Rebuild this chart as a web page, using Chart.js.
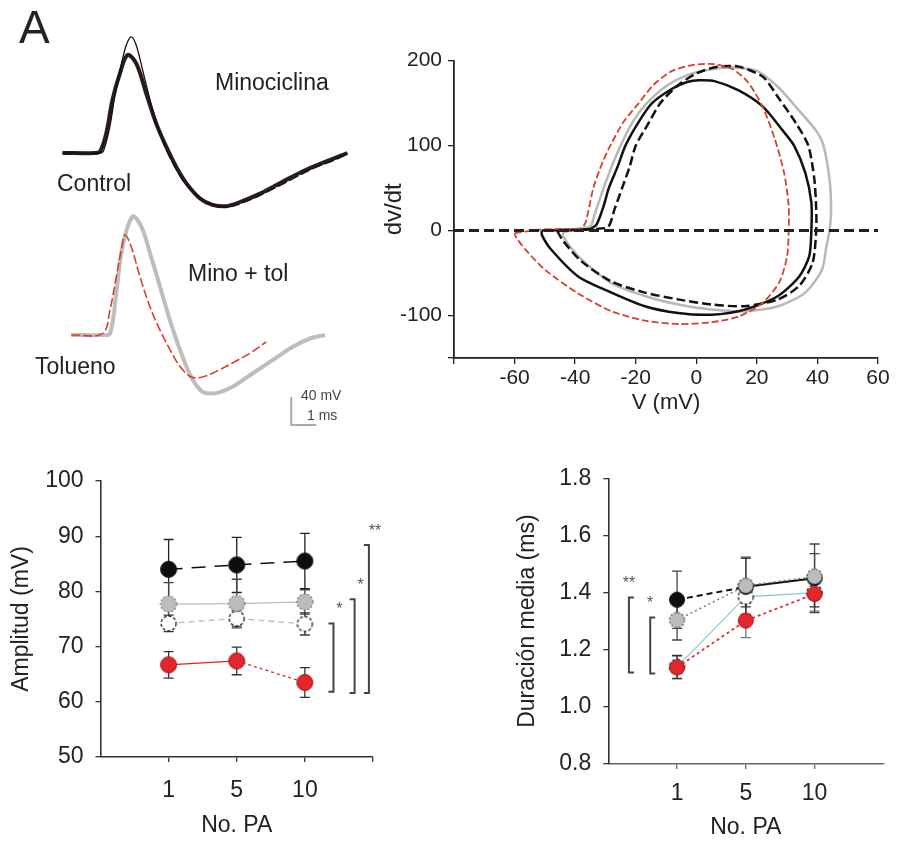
<!DOCTYPE html>
<html>
<head>
<meta charset="utf-8">
<script src="https://cdn.jsdelivr.net/npm/chart.js@4.4.0/dist/chart.umd.min.js"></script>
<style>
    html, body { margin: 0; padding: 0; background: #fff; }
    #fig { position: relative; width: 897px; height: 844px; overflow: hidden; background: #fff; }
    #fig canvas { position: absolute; }
    .lbl { position: absolute; line-height: 1; white-space: nowrap; color: #222;
           font-family: "Liberation Sans", Arial, sans-serif; }
</style>
</head>
<body>
<div id="fig">
    <canvas id="traceTop" width="400" height="252" style="left:0;top:-1px"></canvas>
    <canvas id="traceBottom" width="400" height="252" style="left:0;top:181px"></canvas>
    <canvas id="phasePlot" width="517" height="400" style="left:380px;top:30px"></canvas>
    <canvas id="ampChart" width="440" height="394" style="left:0;top:450px"></canvas>
    <canvas id="durChart" width="417" height="394" style="left:480px;top:450px"></canvas>

    <div class="lbl" style="left:19px;top:4px;font-size:46px">A</div>
    <div class="lbl" style="left:215px;top:71px;font-size:23px">Minociclina</div>
    <div class="lbl" style="left:57px;top:172px;font-size:23px">Control</div>
    <div class="lbl" style="left:188px;top:262px;font-size:23px">Mino + tol</div>
    <div class="lbl" style="left:35px;top:355px;font-size:23px">Tolueno</div>
    <div class="lbl" style="left:301px;top:388px;font-size:14px;color:#444">40 mV</div>
    <div class="lbl" style="left:307px;top:408px;font-size:14px;color:#444">1 ms</div>
</div>
<script>
// ---- A: action potential traces (time in ms, voltage in mV)
const ctlTime = [0, 1.3, 1.5, 1.75, 2.0, 2.3, 2.6, 2.95, 3.35, 3.75, 4.15, 4.55, 4.95, 5.5, 6.0, 6.55, 7.1, 7.9, 8.8, 9.75, 10.55, 11.4];
const ctlVolt = [-70, -70, -68, -42, 6, 44, 70, 58, 15, -28, -61, -90, -113, -135, -144, -146, -140, -128, -111, -94, -82, -70];
const minoTime = [0, 1.5, 1.65, 1.9, 2.1, 2.35, 2.55, 2.75, 2.95, 3.2, 3.5, 3.8, 4.1, 4.5, 4.9, 5.5, 6.0, 6.6, 7.3, 8.1, 9.1, 10.1, 10.9, 11.4];
const minoVolt = [-70, -70, -66, -31, 13, 56, 84, 96, 84, 49, 6, -31, -61, -90, -113, -134, -144, -147, -140, -127, -109, -91, -80, -71];
const tolTime = [0.35, 1.6, 1.9, 2.15, 2.35, 2.5, 2.75, 3.1, 3.5, 3.9, 4.3, 4.7, 5.15, 5.6, 6.15, 6.8, 7.5, 8.15];
const tolVolt = [-70, -68, -34, 13, 51, 73, 56, 13, -30, -63, -91, -115, -130, -130, -122, -110, -96, -80];
const mtTime = [0.35, 1.6, 1.9, 2.15, 2.4, 2.8, 3.15, 3.5, 3.9, 4.3, 4.7, 5.15, 5.6, 6.15, 6.8, 7.6, 8.4, 9.2, 9.9, 10.5];
const mtVolt = [-70, -70, -68, -10, 56, 99, 85, 47, -1, -49, -91, -130, -151, -153, -144, -125, -106, -87, -75, -70];
const scaleBarTime = [9.15, 9.15, 10.15];   // 1 ms
const scaleBarVolt = [-158.6, -198.6, -198.6]; // 40 mV

// ---- phase plot (V in mV, dV/dt)
const tolPhaseV = [-60, -52, -44, -38, -36.5, -34, -31, -28.4, -24, -19, -14, -8, -1, 6, 12, 17, 22, 26, 29, 30.5, 30.5, 30, 27.5, 22, 14, 5, -6, -17, -28, -39, -50, -56, -59.5, -60];
const tolPhaseD = [-3, 1, 2, 3, 10, 50, 80, 100, 128, 150, 172, 188, 195, 196, 190, 175, 145, 107, 68, 30, 0, -30, -60, -85, -101, -108, -110, -106, -95, -74, -46, -24, -8, -3];
const mtPhaseV = [-44, -40, -35, -33.5, -30.6, -28, -25, -21, -16.3, -10, -3, 5, 12, 20, 27, 34, 39.5, 42, 44, 44.5, 44, 43, 41.5, 36, 27, 16, 5, -6, -17, -28, -39, -44, -44];
const mtPhaseD = [-2, 1, 5, 20, 50, 75, 100, 128, 150, 170, 183, 190, 192, 188, 169, 141, 118, 100, 60, 25, 0, -18, -46, -73, -89, -95, -93, -87, -77, -62, -30, -7, -2];
const ctlPhaseV = [-51, -43, -35, -32.8, -30.5, -28.9, -26, -23.4, -19, -14.6, -8, -3, 1, 6, 14, 22, 28.5, 32.3, 36, 38, 38, 37.3, 34, 27, 16, 5, -6, -17, -28, -39, -48, -51, -51];
const ctlPhaseD = [0, 1, 2, 8, 30, 50, 75, 100, 128, 150, 167, 175, 177, 176, 165, 146, 118, 100, 68, 33, 0, -30, -54, -77, -93, -99, -97, -89, -73, -54, -22, -5, 0];
const minoPhaseV = [-46, -38, -33, -29, -27, -24.5, -22, -20, -16, -11.9, -6.4, 0, 7, 14, 22, 27, 33, 37, 39, 39.6, 39.6, 38.4, 34, 27, 16, 5, -6, -17, -28, -38, -44, -46];
const minoPhaseD = [0, 1, 2, 5, 25, 50, 75, 100, 125, 150, 170, 185, 193, 193, 181, 157, 126, 100, 60, 25, 0, -38, -65, -81, -89, -87, -81, -73, -60, -36, -12, 0];
const zeroLineV = [-80, 60];
const zeroLineD = [0, 0];
const phaseVTicks = [-80, -60, -40, -20, 0, 20, 40, 60];
const phaseDTicks = [-150, -100, 0, 100, 200];

// ---- amplitude / half-width per AP number
const pa = ['1', '5', '10'];
const ampControl = [84.0, 84.8, 85.5];
const ampControlErr = [5.4, 5.0, 5.0];
const ampMinoTol = [77.7, 77.8, 78.1];
const ampMinoTolErr = [3.9, 4.4, 2.2];
const ampMino = [74.2, 75.1, 74.1];
const ampMinoErr = [1.5, 1.4, 2.0];
const ampTol = [66.7, 67.4, 63.5];
const ampTolErr = [2.4, 2.5, 2.7];
const ampTicks = [50, 60, 70, 80, 90, 100];
const ampSigX = [3.42, 3.73, 3.94];
const ampSigTop = [74.2, 78.6, 88.4];
const ampSigBottom = [61.8, 61.6, 61.6];
const ampSigLabel = ['*', '*', '**'];

const durControl = [1.375, 1.42, 1.45];
const durControlErr = [0.1, 0.1, 0.12];
const durMinoTol = [1.304, 1.424, 1.456];
const durMinoTolErr = [0.07, 0.1, 0.08];
const durMino = [1.14, 1.385, 1.40];
const durMinoErr = [0.04, 0.035, 0.05];
const durTol = [1.138, 1.302, 1.395];
const durTolErr = [0.04, 0.06, 0.06];
const durTicks = [0.8, 1.0, 1.2, 1.4, 1.6, 1.8];
const durSigX = [0.30, 0.61];
const durSigTop = [1.383, 1.313];
const durSigBottom = [1.120, 1.117];
const durSigLabel = ['**', '*'];

const FONT = '"Liberation Sans", Arial, sans-serif';
Chart.defaults.font.family = FONT;
Chart.defaults.color = '#222';
Chart.defaults.animation = false;
Chart.defaults.events = [];
Chart.defaults.plugins.legend.display = false;
Chart.defaults.plugins.tooltip.enabled = false;

const xy = (xs, ys) => xs.map((x, i) => ({ x, y: ys[i] }));
const fixedTicks = (values) => (scale) => { scale.ticks = values.map(v => ({ value: v })); };

// draws error bars under the markers
const errorBars = {
    id: 'errorBars',
    beforeDatasetsDraw(chart) {
        const { ctx } = chart;
        const y = chart.scales.y;
        chart.data.datasets.forEach((ds, i) => {
            if (!ds.errors) return;
            const meta = chart.getDatasetMeta(i);
            ctx.save();
            ctx.strokeStyle = ds.errorColor || '#333';
            ctx.lineWidth = 1.3;
            meta.data.forEach((pt, j) => {
                const v = ds.data[j].y;
                const top = y.getPixelForValue(v + ds.errors[j]);
                const bot = y.getPixelForValue(v - ds.errors[j]);
                ctx.beginPath();
                ctx.moveTo(pt.x, top); ctx.lineTo(pt.x, bot);
                ctx.moveTo(pt.x - 5, top); ctx.lineTo(pt.x + 5, top);
                ctx.moveTo(pt.x - 5, bot); ctx.lineTo(pt.x + 5, bot);
                ctx.stroke();
            });
            ctx.restore();
        });
    }
};

// significance brackets with asterisks
const brackets = {
    id: 'brackets',
    afterDatasetsDraw(chart, args, opts) {
        if (!opts.x) return;
        const { ctx, scales: { x, y } } = chart;
        ctx.save();
        opts.x.forEach((xv, i) => {
            const px = x.getPixelForValue(xv);
            const t = y.getPixelForValue(opts.top[i]);
            const b = y.getPixelForValue(opts.bottom[i]);
            const arm = 5 * opts.side;
            ctx.strokeStyle = '#444';
            ctx.lineWidth = 2;
            ctx.beginPath();
            ctx.moveTo(px + arm, t); ctx.lineTo(px, t); ctx.lineTo(px, b); ctx.lineTo(px + arm, b);
            ctx.stroke();
            ctx.fillStyle = '#555';
            ctx.font = '16px ' + FONT;
            ctx.textAlign = 'center';
            ctx.textBaseline = 'alphabetic';
            ctx.fillText(opts.labels[i], px + opts.labelDx, t - 9);
        });
        ctx.restore();
    }
};

function dot(r, fill, stroke, dash, lw) {
    const c = document.createElement('canvas');
    const s = Math.ceil(2 * r + lw + 2);
    c.width = c.height = s;
    const g = c.getContext('2d');
    g.beginPath();
    g.arc(s / 2, s / 2, r, 0, Math.PI * 2);
    g.fillStyle = fill;
    g.fill();
    g.setLineDash(dash);
    g.lineWidth = lw;
    g.strokeStyle = stroke;
    g.stroke();
    return c;
}

document.addEventListener('DOMContentLoaded', () => {
    initTraces();
    initPhasePlot();
    initAmplitude();
    initDuration();
});

function traceOptions() {
    return {
        responsive: false,
        layout: { padding: 0 },
        scales: {
            x: { type: 'linear', display: false, min: -2.5, max: 13.5 },
            y: { type: 'linear', display: false, min: -210, max: 150 }
        }
    };
}

function initTraces() {
    new Chart(document.getElementById('traceTop'), {
        type: 'scatter',
        data: {
            datasets: [
                { data: xy(minoTime, minoVolt), showLine: true, borderColor: '#111', borderWidth: 1.3,
                  pointRadius: 0, tension: 0.35,
                  segment: { borderDash: (c) => (c.p0DataIndex > 10 ? [10, 3] : undefined) } },
                { data: xy(ctlTime, ctlVolt), showLine: true, borderColor: '#2a1c17', borderWidth: 4,
                  pointRadius: 0, tension: 0.35 }
            ]
        },
        options: traceOptions()
    });

    new Chart(document.getElementById('traceBottom'), {
        type: 'scatter',
        data: {
            datasets: [
                { data: xy(tolTime, tolVolt), showLine: true, borderColor: '#d8402c', borderWidth: 1.6,
                  borderDash: [9, 3], pointRadius: 0, tension: 0.35 },
                { data: xy(mtTime, mtVolt), showLine: true, borderColor: '#bdbdbd', borderWidth: 4,
                  pointRadius: 0, tension: 0.35 },
                { data: xy(scaleBarTime, scaleBarVolt), showLine: true, borderColor: '#aaa', borderWidth: 2,
                  pointRadius: 0, tension: 0 }
            ]
        },
        options: traceOptions()
    });
}

function initPhasePlot() {
    const axisGrid = { drawOnChartArea: false, tickLength: 6, color: '#222', lineWidth: 1.3 };
    const axisBorder = { color: '#222', width: 1.8 };
    const loop = (xs, ys, color, width, dash) => ({
        data: xy(xs, ys), showLine: true, borderColor: color, borderWidth: width,
        borderDash: dash, pointRadius: 0, tension: 0.25
    });

    new Chart(document.getElementById('phasePlot'), {
        type: 'scatter',
        data: {
            datasets: [
                { data: xy(zeroLineV, zeroLineD), showLine: true, borderColor: '#222', borderWidth: 3,
                  borderDash: [10, 5], pointRadius: 0 },
                loop(tolPhaseV, tolPhaseD, '#d8402c', 1.8, [7, 3]),
                loop(ctlPhaseV, ctlPhaseD, '#111', 2.5, []),
                loop(minoPhaseV, minoPhaseD, '#111', 2.5, [9, 4]),
                loop(mtPhaseV, mtPhaseD, '#b8b8b8', 2.5, [])
            ]
        },
        options: {
            responsive: false,
            layout: { padding: { top: 30.7, right: 19, left: 0, bottom: 0 } },
            scales: {
                x: {
                    type: 'linear', min: -80, max: 60,
                    afterBuildTicks: fixedTicks(phaseVTicks),
                    afterFit: (s) => { s.height = 72; },
                    ticks: { font: { size: 21 }, padding: 2, maxRotation: 0, autoSkip: false,
                             callback: (v) => (v === -80 ? '' : v) },
                    grid: axisGrid, border: axisBorder,
                    title: { display: true, text: 'V (mV)', font: { size: 22 }, padding: { top: 0, bottom: 14 } }
                },
                y: {
                    type: 'linear', min: -150, max: 200,
                    afterBuildTicks: fixedTicks(phaseDTicks),
                    afterFit: (s) => { s.width = 74; },
                    ticks: { font: { size: 21 }, padding: 6, autoSkip: false,
                             callback: (v) => (v === -150 ? '' : v) },
                    grid: axisGrid, border: axisBorder,
                    title: { display: true, text: 'dv/dt', font: { size: 24 }, padding: { top: 0, bottom: 0 } }
                }
            }
        }
    });
}

function meanSeries(values, errors, point, line, errorColor, extra) {
    return Object.assign({
        data: values.map((v, i) => ({ x: i + 1, y: v })),
        errors, errorColor,
        showLine: true,
        pointStyle: point,
        pointRadius: 8,
        borderColor: line.color,
        borderWidth: line.width,
        borderDash: line.dash,
        tension: 0
    }, extra || {});
}

function statAxes(cfg) {
    const grid = { drawOnChartArea: false, tickLength: 5, color: '#333', lineWidth: 1.3 };
    return {
        x: {
            type: 'linear', min: 0, max: 4,
            afterBuildTicks: fixedTicks(cfg.xTicks),
            afterFit: (s) => { s.height = cfg.xHeight; },
            ticks: { font: { size: 23 }, padding: cfg.xPad, maxRotation: 0, autoSkip: false,
                     callback: (v) => pa[v - 1] || '' },
            grid: Object.assign({}, grid, { color: cfg.xColor }),
            border: { color: cfg.xColor, width: 1.5 },
            title: { display: true, text: 'No. PA', font: { size: 23 }, padding: { top: 0, bottom: cfg.xTitlePad } }
        },
        y: {
            type: 'linear', min: cfg.yTicks[0], max: cfg.yTicks[cfg.yTicks.length - 1],
            afterBuildTicks: fixedTicks(cfg.yTicks),
            afterFit: (s) => { s.width = cfg.yWidth; },
            ticks: { font: { size: 23 }, padding: 12, autoSkip: false, callback: cfg.yLabel },
            grid, border: { color: '#333', width: 1.6 },
            title: { display: true, text: cfg.yTitle, font: { size: 23 }, padding: { top: cfg.yTitlePad, bottom: 0 } }
        }
    };
}

function initAmplitude() {
    const blackDot = dot(8, '#0d0d0d', '#0d0d0d', [], 1);
    const grayDot = dot(8, '#bcbcbc', '#777', [2, 2], 1.2);
    const openDot = dot(7.5, '#fff', '#222', [3, 2], 1.3);
    const redDot = dot(8, '#e3262b', '#a31616', [], 1);

    new Chart(document.getElementById('ampChart'), {
        type: 'scatter',
        data: {
            datasets: [
                meanSeries(ampControl, ampControlErr, blackDot, { color: '#111', width: 1.5, dash: [14, 9] }, '#222'),
                meanSeries(ampMinoTol, ampMinoTolErr, grayDot, { color: '#bbb', width: 1.3, dash: [] }, '#444'),
                meanSeries(ampMino, ampMinoErr, openDot, { color: '#bbb', width: 1.3, dash: [6, 4] }, '#333'),
                meanSeries(ampTol, ampTolErr, redDot, { color: '#d22', width: 1.3, dash: [] }, '#333', {
                    segment: { borderDash: (c) => (c.p0DataIndex === 1 ? [3, 3] : undefined) }
                })
            ]
        },
        plugins: [errorBars, brackets],
        options: {
            responsive: false,
            layout: { padding: { top: 31, right: 67, left: 0, bottom: 0 } },
            plugins: {
                brackets: { x: ampSigX, top: ampSigTop, bottom: ampSigBottom, labels: ampSigLabel, side: -1, labelDx: 6 }
            },
            scales: statAxes({
                xTicks: [1, 2, 3, 4], xHeight: 87, xPad: 15, xTitlePad: 5, xColor: '#333',
                yTicks: ampTicks, yWidth: 100.5, yTitle: 'Amplitud (mV)', yTitlePad: 8,
                yLabel: (v) => v
            })
        }
    });
}

function initDuration() {
    const blackDot = dot(7.5, '#0d0d0d', '#0d0d0d', [], 1);
    const grayDot = dot(7.5, '#bcbcbc', '#555', [2, 2], 1.3);
    const openDot = dot(7.5, '#fff', '#222', [3, 2], 1.3);
    const redDot = dot(7.5, '#e3262b', '#a31616', [], 1);

    new Chart(document.getElementById('durChart'), {
        type: 'scatter',
        data: {
            datasets: [
                meanSeries(durTol, durTolErr, redDot, { color: '#d33', width: 1.8, dash: [3, 3] }, '#777'),
                meanSeries(durMinoTol, durMinoTolErr, grayDot, { color: '#777', width: 1.5, dash: [2, 3] }, '#444'),
                meanSeries(durControl, durControlErr, blackDot, { color: '#111', width: 2, dash: [] }, '#444', {
                    segment: { borderDash: (c) => (c.p0DataIndex === 0 ? [6, 4] : undefined) }
                }),
                meanSeries(durMino, durMinoErr, openDot, { color: '#8cc8c8', width: 1.1, dash: [] }, '#333')
            ]
        },
        plugins: [errorBars, brackets],
        options: {
            responsive: false,
            layout: { padding: { top: 28.3, right: 13.7, left: 0, bottom: 0 } },
            plugins: {
                brackets: { x: durSigX, top: durSigTop, bottom: durSigBottom, labels: durSigLabel, side: 1, labelDx: 0 }
            },
            scales: statAxes({
                xTicks: [1, 2, 3], xHeight: 80, xPad: 10.5, xTitlePad: 3, xColor: '#666',
                yTicks: durTicks, yWidth: 128.3, yTitle: 'Duración media (ms)', yTitlePad: 34,
                yLabel: (v) => v.toFixed(1)
            })
        }
    });
}
</script>
</body>
</html>
